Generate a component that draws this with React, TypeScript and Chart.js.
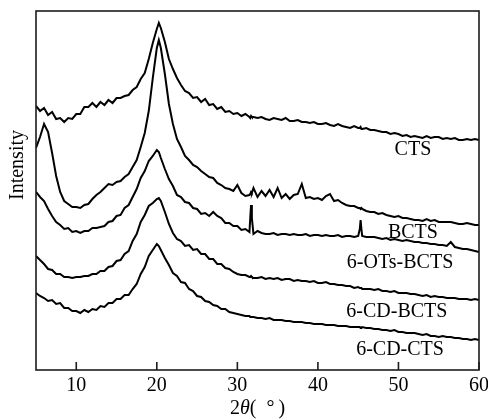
import React, { useEffect, useRef } from 'react';
import { Chart, registerables } from 'chart.js';

Chart.register(...registerables);

// 2θ positions (degrees)
const twoTheta = [
  5, 5.5, 6, 6.5, 7, 7.5, 8, 8.5, 9, 9.5,
  10, 10.5, 11, 11.5, 12, 12.5, 13, 13.5, 14, 14.5,
  15, 15.5, 16, 16.5, 17, 17.5, 18, 18.5, 19, 19.5,
  20, 20.25, 20.5, 21, 21.5, 22, 22.5, 23, 23.5, 24,
  24.5, 25, 25.5, 26, 26.5, 27, 27.5, 28, 28.5, 29,
  29.5, 30, 30.5, 31, 31.5, 31.6, 31.7, 31.8, 32, 32.5,
  33, 33.5, 34, 34.5, 35, 35.5, 36, 36.5, 37, 37.5,
  38, 38.5, 39, 39.5, 40, 40.5, 41, 41.5, 42, 42.5,
  43, 43.5, 44, 44.5, 45, 45.2, 45.3, 45.4, 45.5, 46,
  46.5, 47, 47.5, 48, 48.5, 49, 49.5, 50, 50.5, 51,
  51.5, 52, 52.5, 53, 53.5, 54, 54.5, 55, 55.5, 56,
  56.5, 57, 57.5, 58, 58.5, 59, 59.5, 60,
];

// Intensities (arbitrary units, offset stacked)
const cts = [
  264, 259, 262, 255, 258, 251, 252, 248, 252, 251,
  256, 256, 263, 263, 267, 263, 268, 265, 270, 267,
  272, 272, 274, 275, 280, 283, 291, 297, 311, 327,
  341, 347, 342, 328, 311, 301, 292, 285, 279, 277,
  272, 273, 268, 271, 265, 266, 261, 263, 258, 259,
  256, 257, 254, 256, 253, 252, 254, 253, 253, 252,
  253, 251, 250, 252, 251, 250, 252, 249, 249, 250,
  248, 248, 247, 248, 246, 246, 247, 245, 244, 246,
  244, 243, 242, 244, 242, 242, 243, 241, 241, 242,
  240, 240, 239, 238, 238, 236, 237, 236, 234, 235,
  233, 234, 233, 232, 234, 232, 233, 233, 231, 232,
  231, 232, 230, 230, 231, 230, 231, 230,
];

const bcts = [
  222, 233, 246, 238, 217, 194, 178, 169, 166, 163,
  163, 162, 165, 166, 171, 175, 178, 182, 186, 185,
  188, 189, 193, 196, 203, 210, 223, 237, 259, 292,
  322, 330, 322, 296, 266, 246, 231, 223, 214, 210,
  205, 203, 199, 196, 193, 192, 187, 185, 182, 181,
  179, 185, 177, 174, 175, 176, 178, 177, 182, 173,
  179, 174, 180, 173, 182, 172, 176, 171, 175, 176,
  186, 172, 173, 171, 172, 170, 174, 176, 169, 170,
  167, 165, 164, 164, 162, 162, 161, 162, 161, 159,
  158, 158, 156, 157, 155, 154, 153, 154, 152, 152,
  151, 150, 150, 149, 151, 149, 150, 148, 148, 148,
  148, 147, 146, 146, 147, 146, 145, 145,
];

const otsBcts = [
  178, 173, 169, 161, 154, 148, 145, 141, 142, 138,
  139, 137, 139, 139, 142, 142, 143, 144, 148, 149,
  154, 155, 162, 165, 173, 181, 192, 199, 209, 214,
  220, 218, 212, 201, 191, 184, 175, 173, 168, 167,
  162, 161, 156, 157, 154, 158, 154, 152, 147, 147,
  144, 144, 140, 141, 138, 152, 165, 152, 136, 139,
  137, 136, 136, 137, 135, 136, 136, 135, 136, 135,
  135, 136, 134, 135, 135, 134, 135, 134, 134, 135,
  133, 134, 134, 133, 134, 141, 150, 141, 134, 133,
  133, 133, 132, 131, 132, 130, 131, 130, 129, 130,
  129, 128, 128, 127, 127, 126, 126, 125, 125, 124,
  128, 123, 122, 121, 121, 120, 119, 118,
];

const cdBcts = [
  114, 110, 106, 101, 100, 96, 96, 93, 93, 92,
  93, 93, 94, 94, 96, 96, 99, 99, 103, 104,
  109, 110, 116, 119, 129, 136, 148, 155, 164, 167,
  171, 172, 169, 158, 146, 137, 131, 129, 124, 125,
  120, 121, 116, 116, 111, 111, 106, 106, 102, 101,
  98, 96, 95, 95, 93, 93, 94, 93, 92, 92,
  93, 91, 92, 91, 92, 90, 91, 91, 89, 90,
  89, 89, 88, 89, 87, 87, 88, 86, 86, 85,
  85, 84, 84, 82, 83, 82, 82, 82, 81, 81,
  81, 80, 81, 79, 79, 78, 79, 77, 77, 77,
  76, 76, 75, 74, 75, 73, 74, 73, 73, 72,
  72, 72, 71, 71, 71, 70, 71, 70,
];

const cdCts = [
  77, 74, 72, 69, 70, 66, 67, 62, 62, 59,
  59, 57, 60, 58, 61, 60, 64, 63, 67, 67,
  71, 71, 75, 75, 81, 86, 96, 103, 114, 120,
  126, 124, 120, 112, 105, 97, 94, 88, 87, 81,
  79, 74, 73, 69, 68, 65, 64, 61, 61, 58,
  57, 56, 55, 54, 54, 53, 53, 53, 53, 52,
  52, 51, 52, 50, 50, 50, 49, 49, 48, 48,
  48, 47, 47, 46, 46, 46, 45, 45, 45, 44,
  44, 44, 43, 43, 43, 43, 42, 42, 43, 42,
  42, 41, 41, 40, 40, 39, 40, 38, 38, 37,
  37, 37, 36, 35, 36, 34, 34, 33, 34, 33,
  33, 32, 32, 31, 31, 30, 31, 30,
];

const seriesNames = ['CTS', 'BCTS', '6-OTs-BCTS', '6-CD-BCTS', '6-CD-CTS'];
const seriesValues = [cts, bcts, otsBcts, cdBcts, cdCts];
// where each series name sits (data coordinates)
const labelX = [51.8, 51.8, 50.2, 49.8, 50.2];
const labelY = [220, 137, 107, 58, 20];

const xTicks = [10, 20, 30, 40, 50, 60];
const X_MIN = 5;
const X_MAX = 60;
const Y_MIN = 0;
const Y_MAX = 359;
const yTitleAt = 205;

const FONT = '"Liberation Serif", "Times New Roman", Times, serif';

const framePlugin = {
  id: 'frame',
  afterDraw(chart: any) {
    const { ctx, chartArea, scales } = chart;
    const { left, right, top, bottom } = chartArea;
    const x = scales.x;
    const y = scales.y;
    ctx.save();
    ctx.strokeStyle = '#1c1c1c';
    ctx.lineWidth = 1.6;
    ctx.strokeRect(left, top, right - left, bottom - top);
    ctx.beginPath();
    for (const v of xTicks) {
      const px = x.getPixelForValue(v);
      ctx.moveTo(px, bottom);
      ctx.lineTo(px, bottom - 8);
    }
    ctx.stroke();
    ctx.fillStyle = '#000';
    ctx.font = `20px ${FONT}`;
    ctx.textAlign = 'center';
    ctx.textBaseline = 'middle';
    seriesNames.forEach((n, i) => {
      ctx.fillText(n, x.getPixelForValue(labelX[i]), y.getPixelForValue(labelY[i]));
    });
    ctx.save();
    ctx.translate(left - 18, y.getPixelForValue(yTitleAt));
    ctx.rotate(-Math.PI / 2);
    ctx.fillText('Intensity', 0, 0);
    ctx.restore();
    const parts = [
      { t: '2', f: `20px ${FONT}` },
      { t: 'θ', f: `italic 20px ${FONT}` },
      { t: '(\u2002°\u2009)', f: `20px ${FONT}` },
    ];
    let total = 0;
    const widths = parts.map((p) => {
      ctx.font = p.f;
      const w = ctx.measureText(p.t).width;
      total += w;
      return w;
    });
    let cx = (left + right) / 2 - total / 2;
    ctx.textAlign = 'left';
    parts.forEach((p, i) => {
      ctx.font = p.f;
      ctx.fillText(p.t, cx, bottom + 39);
      cx += widths[i];
    });
    ctx.restore();
  },
};

export default function App() {
  const ref = useRef<HTMLCanvasElement>(null);
  useEffect(() => {
    if (!ref.current) return;
    const chart = new Chart(ref.current, {
      type: 'line',
      data: {
        datasets: seriesValues.map((vals, i) => ({
          label: seriesNames[i],
          data: twoTheta.map((t, j) => ({ x: t, y: vals[j] })),
          borderColor: '#000',
          borderWidth: 2,
          pointRadius: 0,
          fill: false,
          tension: 0,
        })),
      },
      options: {
        responsive: false,
        animation: false,
        devicePixelRatio: 1,
        layout: { padding: { left: 36, right: 9, top: 11, bottom: 0 } },
        plugins: {
          legend: { display: false },
          tooltip: { enabled: false },
          title: { display: false },
        },
        scales: {
          x: {
            type: 'linear',
            min: X_MIN,
            max: X_MAX,
            afterBuildTicks: (s: any) => {
              s.ticks = xTicks.map((v) => ({ value: v }));
            },
            afterFit: (s: any) => {
              s.height = 49;
              s.paddingLeft = 0;
              s.paddingRight = 0;
            },
            grid: { display: false, drawTicks: false },
            border: { display: false },
            ticks: {
              font: { family: FONT, size: 20 },
              color: '#000',
              padding: 4,
              maxRotation: 0,
              autoSkip: false,
            },
          },
          y: { display: false, min: Y_MIN, max: Y_MAX },
        },
      },
      plugins: [framePlugin],
    });
    return () => chart.destroy();
  }, []);
  return (
    <div style={{ position: 'absolute', left: 0, top: 0, width: 488, height: 419 }}>
      <canvas ref={ref} width={488} height={419} style={{ display: 'block' }} />
    </div>
  );
}
